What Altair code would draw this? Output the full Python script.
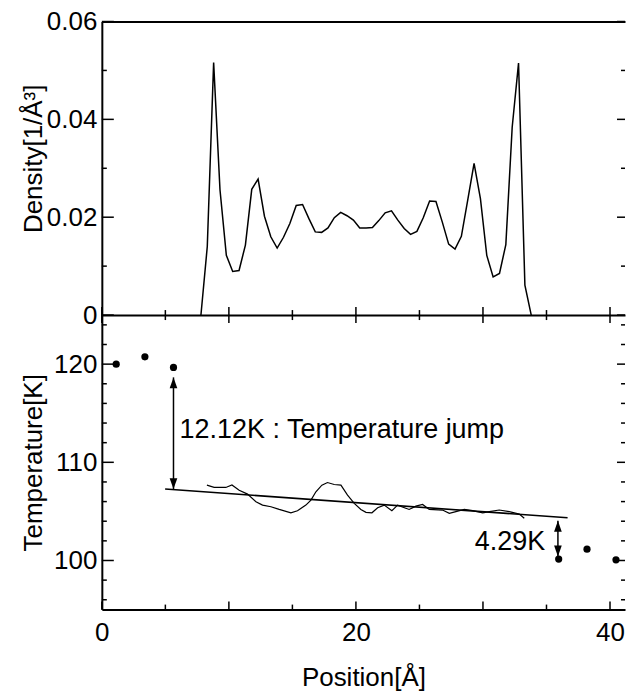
import altair as alt
import pandas as pd

# ---------------- data ----------------
density_pos = [7.8, 8.3, 8.8, 9.3, 9.8, 10.3, 10.8, 11.3, 11.8, 12.3, 12.8, 13.3, 13.8,
               14.3, 14.8, 15.3, 15.8, 16.3, 16.8, 17.3, 17.8, 18.3, 18.8, 19.3, 19.8,
               20.3, 20.8, 21.3, 21.8, 22.3, 22.8, 23.3, 23.8, 24.3, 24.8, 25.3, 25.8,
               26.3, 26.8, 27.3, 27.8, 28.3, 28.8, 29.3, 29.8, 30.3, 30.8, 31.3, 31.8,
               32.3, 32.8, 33.3, 33.8]
density_val = [0.0, 0.0140, 0.0516, 0.0256, 0.0122, 0.0089, 0.0091, 0.0143, 0.0257, 0.0278,
               0.0202, 0.0160, 0.0137, 0.0159, 0.0187, 0.0224, 0.0226, 0.0197, 0.0170, 0.0169,
               0.0178, 0.0199, 0.0210, 0.0203, 0.0194, 0.0178, 0.0178, 0.0179, 0.0193, 0.0209,
               0.0213, 0.0194, 0.0177, 0.0165, 0.0171, 0.0199, 0.0233, 0.0232, 0.0190, 0.0145,
               0.0135, 0.0161, 0.0235, 0.0310, 0.0238, 0.0122, 0.0078, 0.0085, 0.0144, 0.0384,
               0.0515, 0.0061, 0.0]

temp_pos = [8.27, 8.84, 9.76, 10.24, 10.81, 11.47, 12.13, 12.65, 13.31, 13.96, 14.88, 15.40,
            16.06, 16.46, 16.85, 17.32, 17.76, 18.29, 18.82, 19.34, 19.87, 20.39, 20.79, 21.26,
            21.71, 22.23, 22.83, 23.28, 24.19, 24.72, 25.25, 25.77, 26.82, 27.35, 27.87, 28.53,
            29.19, 29.98, 30.50, 31.28, 32.07, 32.86, 33.25]
temp_val = [107.67, 107.44, 107.44, 107.70, 107.16, 106.76, 105.98, 105.64, 105.47, 105.20,
            104.86, 105.07, 105.64, 106.15, 107.00, 107.67, 107.94, 107.74, 107.67, 106.66,
            105.82, 105.20, 104.90, 104.86, 105.37, 105.64, 105.07, 105.64, 105.20, 105.54,
            105.71, 105.20, 105.14, 104.80, 104.97, 105.20, 105.07, 104.86, 104.97, 105.14,
            104.97, 104.73, 104.30]

point_pos = [1.13, 3.39, 5.64, 35.96, 38.19, 40.47]
point_val = [120.0, 120.74, 119.66, 100.14, 101.15, 100.07]

fit_pos = [4.98, 36.66]
fit_val = [107.28, 104.35]

arrow_pos = [5.64, 35.9]
arrow_top = [118.65, 104.05]
arrow_bottom = [107.27, 100.4]

label_text = ["12.12K : Temperature jump", "4.29K"]
label_pos = [6.12, 34.9]
label_val = [112.46, 101.08]

x_major = [0, 10, 20, 30, 40]
x_minor = [5, 15, 25, 35]
x_labels = [0, 20, 40]
d_major = [0, 0.02, 0.04, 0.06]
d_minor = [0.01, 0.03, 0.05]
t_major = [100, 110, 120]
t_minor = [96, 98, 102, 104, 106, 108, 112, 114, 116, 118, 122, 124]

# ---------------- style ----------------
FONT = "Liberation Sans"
FS = 26
FS_NOTE = 27
W = 524
H_TOP = 294
H_BOT = 295
TICK_W = 1.5
TICK_COLOR = "black"


def xscale():
    return alt.Scale(domain=[0, 41.18], nice=False, zero=False)


def dscale():
    return alt.Scale(domain=[0, 0.06], nice=False, zero=False)


def tscale():
    return alt.Scale(domain=[95, 125], nice=False, zero=False)


def frame_df(values):
    return pd.DataFrame({"v": values})


def x_ticks(values, y_from, y_to):
    """Inward ticks on a horizontal edge; position along x comes from the x scale."""
    return alt.Chart(frame_df(values)).mark_rule(color=TICK_COLOR, strokeWidth=TICK_W).encode(
        x=alt.X("v:Q", scale=xscale(), axis=None),
        y=alt.value(y_from), y2=alt.value(y_to),
    )


def y_ticks(values, scale, x_from, x_to):
    """Inward ticks on a vertical edge; position along y comes from the y scale."""
    return alt.Chart(frame_df(values)).mark_rule(color=TICK_COLOR, strokeWidth=TICK_W).encode(
        y=alt.Y("v:Q", scale=scale, axis=None),
        x=alt.value(x_from), x2=alt.value(x_to),
    )


density_df = pd.DataFrame({"pos": density_pos, "val": density_val})
temp_df = pd.DataFrame({"pos": temp_pos, "val": temp_val})
point_df = pd.DataFrame({"pos": point_pos, "val": point_val})
fit_df = pd.DataFrame({"pos": fit_pos, "val": fit_val})
arrow_df = pd.DataFrame({"pos": arrow_pos, "top": arrow_top, "bottom": arrow_bottom})
label_df = pd.DataFrame({"text": label_text, "pos": label_pos, "val": label_val})

# ---------------- top panel: density ----------------
dens_line = alt.Chart(density_df).mark_line(color="black", strokeWidth=1.5).encode(
    x=alt.X("pos:Q", scale=xscale(),
            axis=alt.Axis(orient="bottom", ticks=False, labels=False, domain=True,
                          title=None, grid=False)),
    y=alt.Y("val:Q", scale=dscale(),
            axis=alt.Axis(orient="left", values=d_major, format="~g", ticks=False,
                          domain=True, labelPadding=5, title="Density[1/Å³]",
                          titlePadding=0, titleY=137, grid=False)),
)

dens_frame = alt.Chart(density_df).mark_line(opacity=0).encode(
    x=alt.X("pos:Q", scale=xscale(),
            axis=alt.Axis(orient="top", ticks=False, labels=False, domain=True,
                          title=None, grid=False)),
    y=alt.Y("val:Q", scale=dscale(), axis=None),
)

top = alt.layer(
    dens_line, dens_frame,
    x_ticks(x_major, H_TOP, H_TOP - 8), x_ticks(x_minor, H_TOP, H_TOP - 5),
    y_ticks(d_major, dscale(), 0, 12), y_ticks(d_minor, dscale(), 0, 5),
    y_ticks(d_major, dscale(), W - 8, W), y_ticks(d_minor, dscale(), W - 4, W),
).resolve_axis(x="independent", y="independent").properties(width=W, height=H_TOP)

# ---------------- bottom panel: temperature ----------------
temp_line = alt.Chart(temp_df).mark_line(color="black", strokeWidth=1.2).encode(
    x=alt.X("pos:Q", scale=xscale(),
            axis=alt.Axis(orient="bottom", values=x_labels, ticks=False, domain=True,
                          labelPadding=10, labelFlush=False, title="Position[Å]",
                          titlePadding=19, grid=False)),
    y=alt.Y("val:Q", scale=tscale(),
            axis=alt.Axis(orient="left", values=t_major, ticks=False, domain=True,
                          labelPadding=5, title="Temperature[K]", titlePadding=7,
                          grid=False)),
)

fit_line = alt.Chart(fit_df).mark_line(color="black", strokeWidth=1.6).encode(
    x=alt.X("pos:Q", scale=xscale(), axis=None),
    y=alt.Y("val:Q", scale=tscale(), axis=None),
)

points = alt.Chart(point_df).mark_circle(color="black", size=52, opacity=1).encode(
    x=alt.X("pos:Q", scale=xscale(), axis=None),
    y=alt.Y("val:Q", scale=tscale(), axis=None),
)

shafts = alt.Chart(arrow_df).mark_rule(color="black", strokeWidth=1.5).encode(
    x=alt.X("pos:Q", scale=xscale(), axis=None),
    y=alt.Y("top:Q", scale=tscale(), axis=None),
    y2="bottom:Q",
)

head_up = alt.Chart(arrow_df).mark_point(
    shape="M0,-1L0.7,1L-0.7,1Z", filled=True, color="black", opacity=1, size=121, yOffset=5.5
).encode(
    x=alt.X("pos:Q", scale=xscale(), axis=None),
    y=alt.Y("top:Q", scale=tscale(), axis=None),
)

head_down = alt.Chart(arrow_df).mark_point(
    shape="M0,1L0.7,-1L-0.7,-1Z", filled=True, color="black", opacity=1, size=121, yOffset=-5.5
).encode(
    x=alt.X("pos:Q", scale=xscale(), axis=None),
    y=alt.Y("bottom:Q", scale=tscale(), axis=None),
)

text_left = alt.Chart(label_df.iloc[[0]]).mark_text(
    align="left", baseline="alphabetic", font=FONT, fontSize=FS_NOTE, color="black"
).encode(
    x=alt.X("pos:Q", scale=xscale(), axis=None),
    y=alt.Y("val:Q", scale=tscale(), axis=None),
    text="text:N",
)

text_right = alt.Chart(label_df.iloc[[1]]).mark_text(
    align="right", baseline="alphabetic", font=FONT, fontSize=FS_NOTE, color="black"
).encode(
    x=alt.X("pos:Q", scale=xscale(), axis=None),
    y=alt.Y("val:Q", scale=tscale(), axis=None),
    text="text:N",
)

bottom = alt.layer(
    temp_line,
    x_ticks(x_major, H_BOT, H_BOT - 8), x_ticks(x_minor, H_BOT, H_BOT - 5),
    x_ticks(x_major, 0, 8), x_ticks(x_minor, 0, 5),
    y_ticks(t_major, tscale(), 0, 12), y_ticks(t_minor, tscale(), 0, 5),
    y_ticks(t_major, tscale(), W - 8, W), y_ticks(t_minor, tscale(), W - 4, W),
    fit_line, points, shafts, head_up, head_down, text_left, text_right,
).resolve_axis(x="independent", y="independent").properties(width=W, height=H_BOT)

chart = alt.vconcat(top, bottom, spacing=0, bounds="flush").properties(
    padding={"left": 20, "top": 8, "right": 0, "bottom": 0}
).configure_view(stroke=None).configure_axis(
    grid=False,
    labelFont=FONT, titleFont=FONT, labelFontSize=FS, titleFontSize=FS,
    titleFontWeight="normal", labelColor="black", titleColor="black",
    domainColor="black", tickColor="black", domainWidth=2, tickWidth=1.5,
)

chart.save("out.html", embed_options={"renderer": "svg", "actions": False})
